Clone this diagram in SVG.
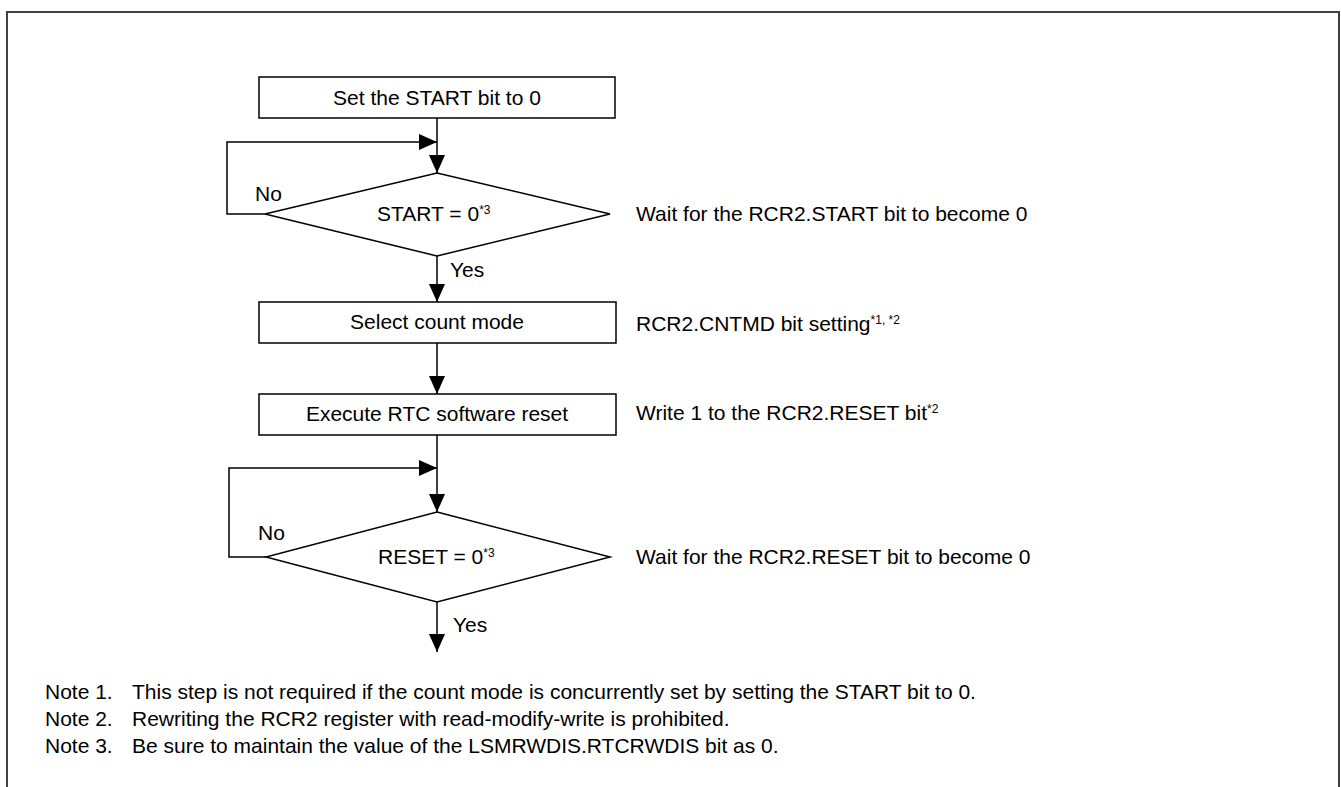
<svg xmlns="http://www.w3.org/2000/svg" width="1341" height="787" viewBox="0 0 1341 787">
<style>
text{font-family:"Liberation Sans",Arial,sans-serif;font-size:21px;fill:#000}
.c{text-anchor:middle}
.sup{font-size:12px}
.box{fill:#fff;stroke:#000;stroke-width:1.5}
.ln{fill:none;stroke:#000;stroke-width:1.5}
</style>
<defs>
<marker id="ah" markerUnits="userSpaceOnUse" markerWidth="18" markerHeight="16" refX="18" refY="8" orient="auto">
<path d="M0,0 L18,8 L0,16 z" fill="#000"/>
</marker>
</defs>
<rect x="7" y="12" width="1332" height="800" fill="#fff" stroke="#404040" stroke-width="2"/>
<g id="connectors">
<path class="ln" d="M437,118 V173" marker-end="url(#ah)"/>
<path class="ln" d="M265,214 H227 V142 H437" marker-end="url(#ah)"/>
<path class="ln" d="M437,256 V302" marker-end="url(#ah)"/>
<path class="ln" d="M437,343 V394" marker-end="url(#ah)"/>
<path class="ln" d="M437,435 V512" marker-end="url(#ah)"/>
<path class="ln" d="M266,557 H229 V468 H437" marker-end="url(#ah)"/>
<path class="ln" d="M437,602 V652" marker-end="url(#ah)"/>
<text x="255" y="201">No</text>
<text x="450" y="277">Yes</text>
<text x="258" y="540">No</text>
<text x="453" y="632">Yes</text>
</g>
<g id="n1">
<rect class="box" x="259" y="77" width="356" height="41"/>
<text class="c" x="437" y="105">Set the START bit to 0</text>
</g>
<g id="n2">
<polygon class="box" points="437,173 610,214 437,256 265,214"/>
<text x="377" y="221">START = 0<tspan class="sup" dy="-7">*3</tspan></text>
<text x="636" y="221">Wait for the RCR2.START bit to become 0</text>
</g>
<g id="n3">
<rect class="box" x="259" y="302" width="357" height="41"/>
<text class="c" x="437" y="329">Select count mode</text>
<text x="636" y="331">RCR2.CNTMD bit setting<tspan class="sup" dy="-7">*1, *2</tspan></text>
</g>
<g id="n4">
<rect class="box" x="259" y="394" width="357" height="41"/>
<text class="c" x="437" y="421">Execute RTC software reset</text>
<text x="636" y="420">Write 1 to the RCR2.RESET bit<tspan class="sup" dy="-7">*2</tspan></text>
</g>
<g id="n5">
<polygon class="box" points="437,512 610,557 437,602 266,557"/>
<text x="378" y="564">RESET = 0<tspan class="sup" dy="-7">*3</tspan></text>
<text x="636" y="564">Wait for the RCR2.RESET bit to become 0</text>
</g>
<g id="notes">
<text x="45" y="699">Note 1.</text><text x="132" y="699">This step is not required if the count mode is concurrently set by setting the START bit to 0.</text>
<text x="45" y="726">Note 2.</text><text x="132" y="726">Rewriting the RCR2 register with read-modify-write is prohibited.</text>
<text x="45" y="753">Note 3.</text><text x="132" y="753">Be sure to maintain the value of the LSMRWDIS.RTCRWDIS bit as 0.</text>
</g>
</svg>
